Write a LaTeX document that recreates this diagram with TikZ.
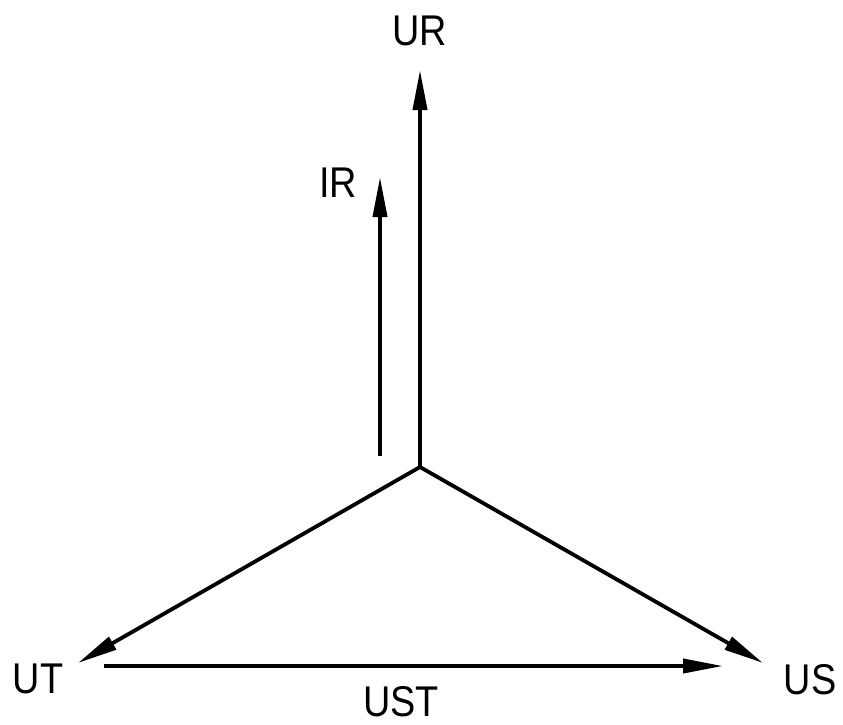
\documentclass[tikz,border=0pt]{standalone}
\usepackage{fontspec}
\setmainfont{Liberation Sans}
\usetikzlibrary{arrows.meta}
\begin{document}
\begin{tikzpicture}[x=1pt,y=-1pt,
  vec/.style={line width=3.8pt,-{Triangle[length=40pt,width=14pt]}},
  lbl/.style={font=\fontsize{43}{43}\selectfont,inner sep=0pt,anchor=base,xscale=0.88}]
\useasboundingbox (0,0) rectangle (843,724);
\coordinate (O) at (420,467);
\coordinate (URt) at (420,70);
\coordinate (IRb) at (380,456);
\coordinate (IRt) at (380,177);
\coordinate (UTt) at (78,663);
\coordinate (USt) at (763,663);
\coordinate (USTa) at (104,666);
\coordinate (USTb) at (723,666);
\draw[vec] (O) -- (URt);
\draw[vec] (IRb) -- (IRt);
\draw[vec] (O) -- (UTt);
\draw[vec] (O) -- (USt);
\draw[vec] (USTa) -- (USTb);
\node[lbl] (UR) at (420,45) {UR};
\node[lbl] (IR) at (338,197) {IR};
\node[lbl] (UT) at (38,693) {UT};
\node[lbl] (US) at (810,694) {US};
\node[lbl] (UST) at (401,716) {UST};
\end{tikzpicture}
\end{document}
